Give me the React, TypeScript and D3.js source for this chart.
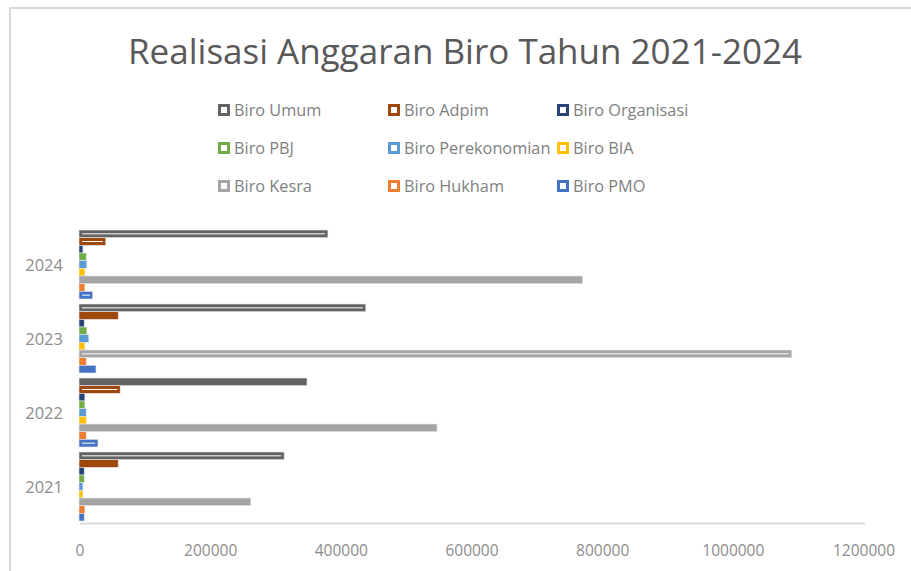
import React from "react";
import * as d3 from "d3";

const years = ["2024", "2023", "2022", "2021"];
const seriesNames = [
  "Biro Umum", "Biro Adpim", "Biro Organisasi",
  "Biro PBJ", "Biro Perekonomian", "Biro BIA",
  "Biro Kesra", "Biro Hukham", "Biro PMO",
];
const seriesColors = [
  "#636363", "#9e480e", "#264478",
  "#70ad47", "#5b9bd5", "#ffc000",
  "#a5a5a5", "#ed7d31", "#4472c4",
];
// values per series, in order of years [2024, 2023, 2022, 2021]
const biroUmum = [381000, 439000, 349000, 314000];
const biroAdpim = [41000, 60000, 63000, 60000];
const biroOrganisasi = [6000, 8000, 9000, 8000];
const biroPBJ = [11000, 12000, 9000, 8000];
const biroPerekonomian = [12000, 15000, 11000, 6000];
const biroBIA = [9000, 9000, 11000, 6000];
const biroKesra = [771000, 1091000, 548000, 263000];
const biroHukham = [9000, 11000, 11000, 9000];
const biroPMO = [21000, 26000, 29000, 8000];
const seriesValues = [
  biroUmum, biroAdpim, biroOrganisasi, biroPBJ, biroPerekonomian,
  biroBIA, biroKesra, biroHukham, biroPMO,
];
const xTicks = [0, 200000, 400000, 600000, 800000, 1000000, 1200000];
const title = "Realisasi Anggaran Biro Tahun 2021-2024";

// rendering artefacts (thin white inner line) seen in the reference
const innerLine = new Set([
  "2024-0", "2024-1", "2024-8", "2023-0", "2023-6", "2022-1", "2022-8", "2021-0",
]);

const FONT = "'Open Sans', 'Noto Sans', sans-serif";

export default function App() {
  const W = 911, H = 571;
  const left = 79, right = 863, top = 227.5, bottom = 523.5;
  const x = d3.scaleLinear().domain([0, 1200000]).range([left, right]);
  const y = d3.scaleBand().domain(years).range([top, bottom]).paddingInner(0.0676).paddingOuter(0.0338);
  const inner = d3.scaleBand().domain(seriesNames).range([0, y.bandwidth()]);

  const legendCols = [218, 388, 557];
  const legendRows = [110, 148, 186];

  return (
    <svg width={W} height={H} style={{ position: "absolute", left: 0, top: 0, background: "#fff" }}>
      <rect x={0} y={0} width={W} height={H} fill="#fff" />
      <line x1={9} y1={8} x2={W} y2={8} stroke="#d9d9d9" strokeWidth={2} />
      <line x1={10} y1={7} x2={10} y2={H} stroke="#d9d9d9" strokeWidth={2} />
      <text x={465} y={64} textAnchor="middle" fontFamily={FONT} fontSize={35} fill="#595959">
        {title}
      </text>
      {seriesNames.map((n, i) => {
        const cx = legendCols[i % 3];
        const cy = legendRows[Math.floor(i / 3)];
        return (
          <g key={n}>
            <rect x={cx} y={cy - 6} width={12} height={12} fill={seriesColors[i]} />
            <rect x={cx + 3} y={cy - 3} width={6} height={6} fill="#fff" />
            <text x={cx + 16} y={cy + 5.5} fontFamily={FONT} fontSize={16.3} fill="#7f7f7f">{n}</text>
          </g>
        );
      })}
      {years.map((yr, yi) => (
        <g key={yr}>
          {seriesNames.map((n, si) => {
            const v = seriesValues[si][yi];
            const by = (y(yr) as number) + (inner(n) as number);
            const bh = inner.bandwidth();
            const w = x(v) - x(0);
            return (
              <g key={n}>
                <rect x={x(0)} y={by} width={w} height={bh} fill={seriesColors[si]} stroke="#e6e6e6" strokeWidth={0.6} />
                {innerLine.has(`${yr}-${si}`) && (
                  <line x1={x(0) + 3} x2={x(0) + w - 3} y1={by + bh / 2} y2={by + bh / 2} stroke="#fff" strokeWidth={1} />
                )}
              </g>
            );
          })}
          <text x={63} y={(y(yr) as number) + y.bandwidth() / 2 + 6} textAnchor="end" fontFamily={FONT} fontSize={16.5} fill="#8c8c8c">{yr}</text>
        </g>
      ))}
      <line x1={80} x2={865} y1={523.5} y2={523.5} stroke="#d9d9d9" strokeWidth={2} />
      {xTicks.map((t) => (
        <text key={t} x={x(t) + 1} y={556} textAnchor="middle" fontFamily={FONT} fontSize={15.5} fill="#8c8c8c">{t}</text>
      ))}
    </svg>
  );
}
